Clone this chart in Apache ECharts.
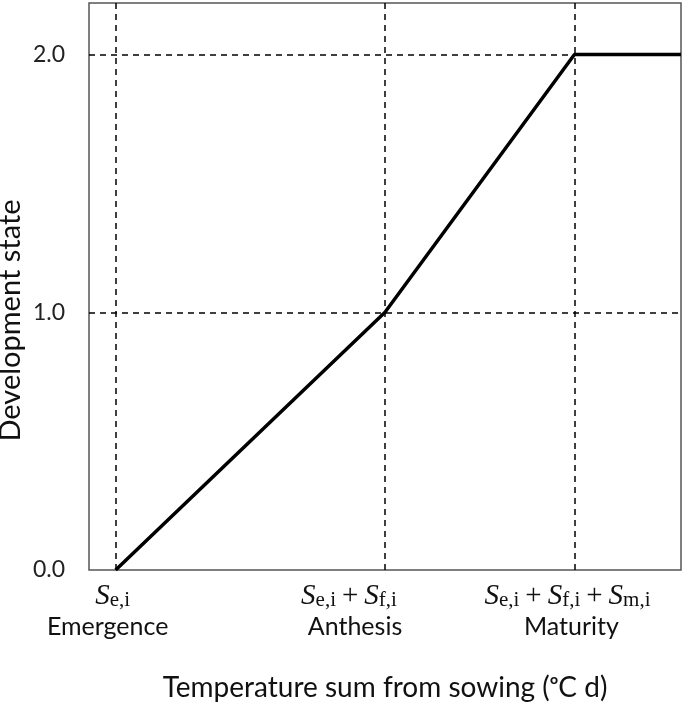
<!DOCTYPE html>
<html><head><meta charset="utf-8">
<script src="https://cdn.jsdelivr.net/npm/echarts@6/dist/echarts.min.js"></script>
<style>html,body{margin:0;padding:0;background:#fff}#c{width:685px;height:707px}</style>
</head><body><div id="c"></div>
<script>
// Stage thresholds (temperature-sum positions, arbitrary units)
const stageNames = ['Emergence', 'Anthesis', 'Maturity'];
const stageX = [4.5, 50, 82];
const yTicks = [0, 1, 2];
// Development state curve
const curveX = [4.5, 50, 82, 100];
const curveY = [0, 1, 2, 2];

// label horizontal shifts (px, right padding = 2x leftward shift) for [math line, name line]
const mathPad = [6, 72, 14];
const namePad = [16, 60, 6];

const labelRich = {
  S: {fontFamily: 'Liberation Serif', fontStyle: 'italic', fontSize: 29, color: '#111', verticalAlign: 'bottom', lineHeight: 30},
  sub: {fontFamily: 'Liberation Serif', fontSize: 21, color: '#111', padding: [9, 0, 0, 0], verticalAlign: 'bottom', lineHeight: 30},
  op: {fontFamily: 'Liberation Serif', fontSize: 29, color: '#111', padding: [0, 6, 0, 6], verticalAlign: 'bottom', lineHeight: 30}
};
for (let i = 0; i < 3; i++) {
  labelRich['last' + i] = Object.assign({}, labelRich.sub, {padding: [9, mathPad[i], 0, 0]});
  labelRich['nm' + i] = {fontFamily: 'Lato', fontSize: 25, color: '#111', lineHeight: 32, padding: [0, namePad[i], 0, 0]};
}
const mathLabels = [
  '{S|S}{last0|e,i}',
  '{S|S}{sub|e,i}{op|+}{S|S}{last1|f,i}',
  '{S|S}{sub|e,i}{op|+}{S|S}{sub|f,i}{op|+}{S|S}{last2|m,i}'
];

const chart = echarts.init(document.getElementById('c'));
chart.setOption({
  animation: false,
  grid: {left: 89, right: 4, top: 3, bottom: 137, show: true, borderColor: '#555', borderWidth: 1.5, outerBoundsMode: 'none'},
  xAxis: {
    type: 'value', min: 0, max: 100,
    name: 'Temperature sum from sowing (\u1d52C d)',
    nameLocation: 'middle', nameGap: 104,
    nameTextStyle: {fontFamily: 'Lato', fontSize: 28, color: '#111'},
    axisLine: {show: false}, axisTick: {show: false}, splitLine: {show: false},
    axisLabel: {
      customValues: stageX, margin: 11,
      formatter: function (v) {
        const i = stageX.indexOf(v);
        return i < 0 ? '' : mathLabels[i] + '\n{nm' + i + '|' + stageNames[i] + '}';
      },
      rich: labelRich
    }
  },
  yAxis: {
    type: 'value', min: 0, max: 2.2,
    name: 'Development state', nameLocation: 'middle', nameGap: 64, nameMoveOverlap: false,
    nameTextStyle: {fontFamily: 'Lato', fontSize: 29, color: '#111', padding: [0, 68, 0, 0]},
    axisLine: {show: false}, axisTick: {show: false}, splitLine: {show: false},
    axisLabel: {
      customValues: yTicks, margin: 24,
      formatter: v => v.toFixed(1),
      fontFamily: 'Lato', fontSize: 23, color: '#222'
    }
  },
  series: [{
    type: 'line',
    data: curveX.map((x, i) => [x, curveY[i]]),
    symbol: 'none',
    lineStyle: {color: '#000', width: 3.5},
    markLine: {
      silent: true, symbol: 'none', label: {show: false},
      lineStyle: {color: '#000', type: [6, 5], width: 1.5},
      data: stageX.map(x => ({xAxis: x})).concat([{yAxis: 1}, {yAxis: 2}])
    }
  }]
});
</script></body></html>
